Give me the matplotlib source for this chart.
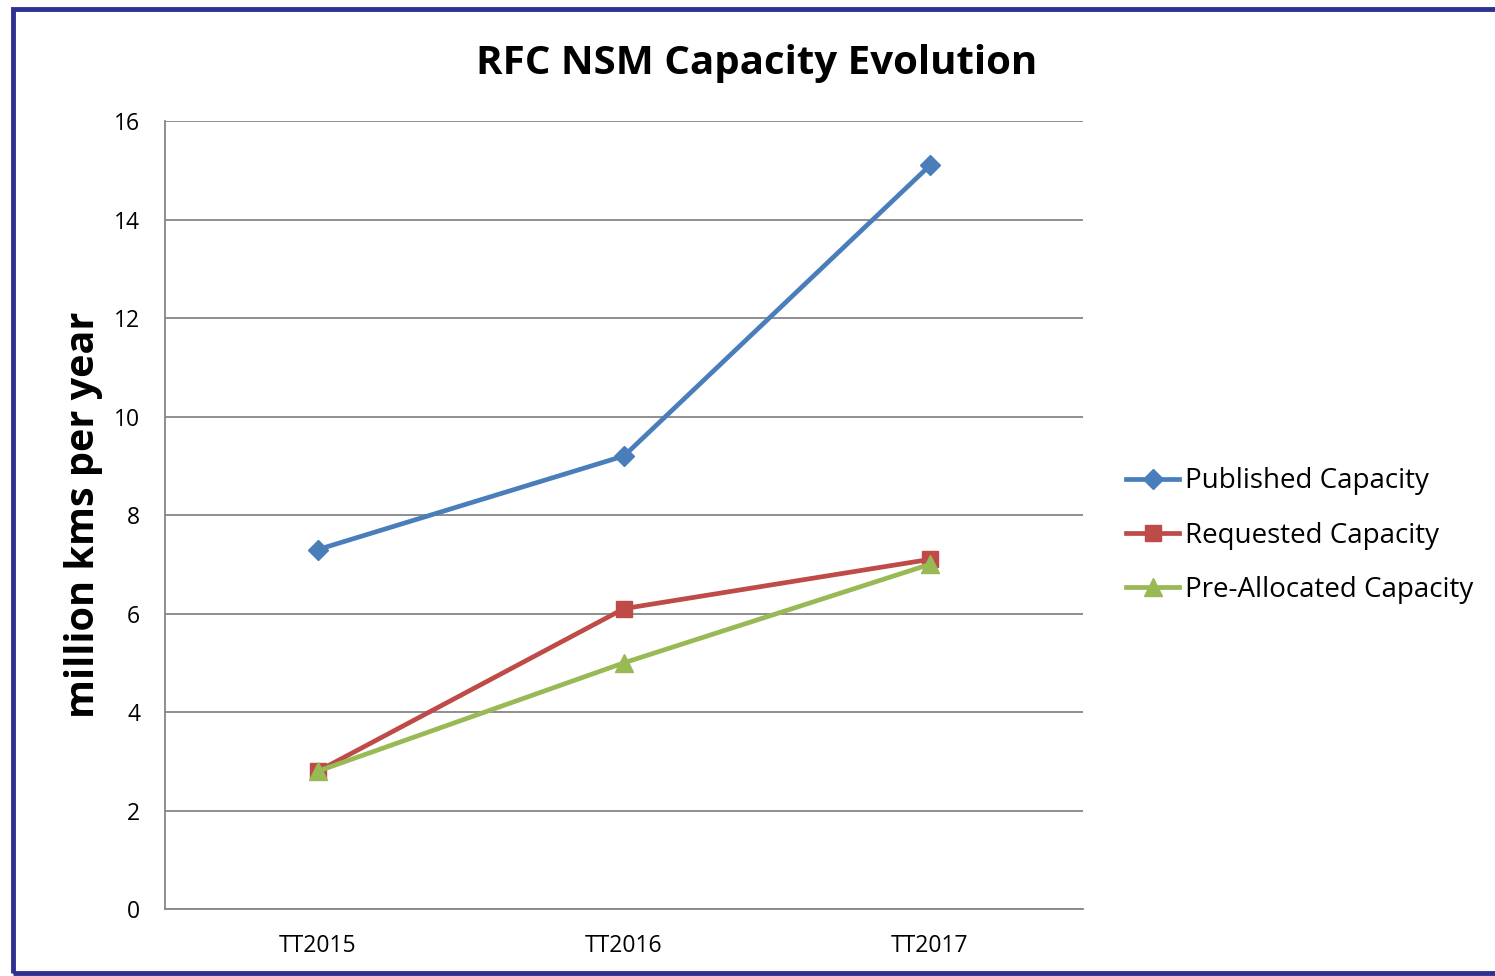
import matplotlib.pyplot as plt
from matplotlib.patches import Rectangle

plt.rcParams['font.family'] = ['Open Sans', 'DejaVu Sans']

years = ['TT2015', 'TT2016', 'TT2017']
published = [7.3, 9.2, 15.1]
requested = [2.8, 6.1, 7.1]
preallocated = [2.8, 5.0, 7.0]

fig = plt.figure(figsize=(14.95, 9.76), dpi=100)
ax = fig.add_axes([0.1104, 0.0686, 0.6140, 0.8074])

x = range(len(years))
ax.plot(x, published, color='#4A7EBB', lw=3.4, marker='D', ms=10,
        label='Published Capacity')
ax.plot(x, requested, color='#BE4B48', lw=3.4, marker='s', ms=12,
        label='Requested Capacity')
ax.plot(x, preallocated, color='#98B954', lw=3.4, marker='^', ms=13,
        label='Pre-Allocated Capacity')

ax.set_xlim(-0.5, 2.5)
ax.set_ylim(0, 16)
ax.set_yticks(range(0, 17, 2))
ax.set_xticks(list(x))
ax.set_xticklabels(years)
ax.tick_params(length=0, labelsize=16.5)
ax.tick_params(axis='x', pad=18)
ax.tick_params(axis='y', pad=18)
ax.grid(axis='y', color='#868686', lw=1.3)
ax.set_axisbelow(True)
for s in ['top', 'right']:
    ax.spines[s].set_visible(False)
for s in ['left', 'bottom']:
    ax.spines[s].set_color('#868686')
    ax.spines[s].set_linewidth(1.3)

ax.set_ylabel('million kms per year', fontsize=28.5, fontweight='bold',
              labelpad=8)
fig.text(0.506, 0.935, 'RFC NSM Capacity Evolution', ha='center',
         va='center', fontsize=29, fontweight='bold')

ax.legend(loc='center left', bbox_to_anchor=(0.746, 0.451),
          bbox_transform=fig.transFigure, frameon=False, fontsize=20,
          handlelength=1.9, handletextpad=0.2, labelspacing=0.95,
          borderaxespad=0)

fig.patches.append(Rectangle((0.0087, 0.003), 1.2, 0.988,
                             transform=fig.transFigure, fill=False,
                             edgecolor='#2E3192', lw=3.5))

fig.savefig('out.png', dpi=100)
